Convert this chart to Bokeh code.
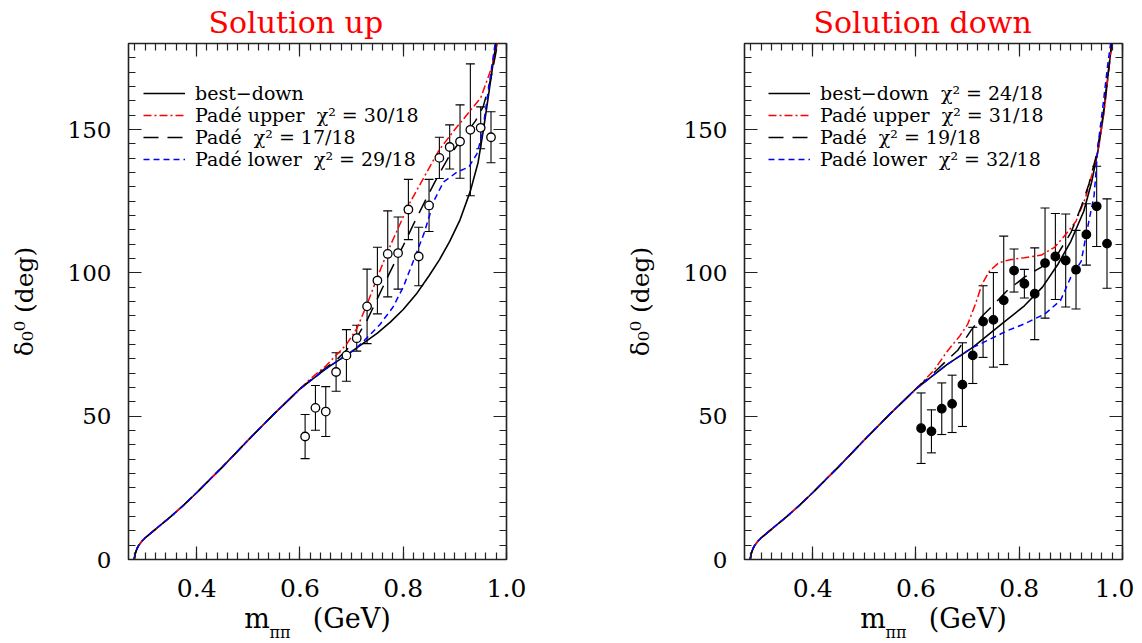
import numpy as np
from bokeh.plotting import figure
from bokeh.models import (ColumnDataSource, Whisker, TeeHead, LinearAxis, FixedTicker, Range1d,
                          Legend, LegendItem, Title, CustomJSTickFormatter, NumeralTickFormatter)
from bokeh.layouts import row
from bokeh.embed import file_html
from bokeh.resources import INLINE

# ---------------- data ----------------
m_pts = [0.61, 0.63, 0.65, 0.67, 0.69, 0.71, 0.73, 0.75, 0.77, 0.79,
         0.81, 0.83, 0.85, 0.87, 0.89, 0.91, 0.93, 0.95, 0.97]
delta_up = [42.9, 52.9, 51.6, 65.4, 71.2, 77.2, 88.3, 97.3, 106.6, 106.9,
            122.1, 105.7, 123.5, 140.1, 143.9, 145.8, 149.9, 150.6, 147.3]
err_up = [7.7, 7.8, 8.7, 6.7, 9.0, 4.5, 13.0, 11.6, 15.0, 12.6,
          10.5, 10.2, 9.1, 7.2, 7.7, 12.8, 23.0, 7.3, 8.9]
delta_down = [45.8, 44.7, 52.6, 54.3, 61.0, 71.2, 83.0, 83.6, 90.4, 100.8,
              96.2, 92.7, 103.4, 105.7, 104.3, 101.1, 113.4, 123.2, 110.2]
err_down = [12.3, 7.5, 9.0, 10.0, 14.6, 9.8, 12.5, 16.5, 22.4, 7.5,
            5.0, 16.0, 19.2, 15.0, 16.2, 13.7, 10.7, 14.0, 15.6]

# common low-energy part of all curves
common_m = [0.279, 0.281, 0.284, 0.288, 0.294, 0.30, 0.32, 0.35, 0.375, 0.40, 0.425, 0.45,
            0.475, 0.50, 0.55, 0.60]
common_d = [0.0, 2.0, 3.6, 5.0, 6.4, 7.5, 10.5, 15.0, 19.0, 23.3, 27.8, 32.3,
            37.0, 41.7, 50.8, 59.5]

# Solution up
L_best_m = [0.65, 0.70, 0.75, 0.775, 0.80, 0.825, 0.85, 0.87, 0.89, 0.91, 0.93, 0.945,
            0.955, 0.962, 0.97, 0.978, 0.985, 0.992]
L_best_d = [66.5, 72.5, 79.0, 82.8, 87.2, 92.5, 99.0, 104.5, 111.0, 118.5, 128.5, 138.5,
            149.5, 158.0, 168.0, 178.0, 188.0, 198.0]
L_upper_m = [0.62, 0.65, 0.69, 0.71, 0.73, 0.75, 0.77, 0.79, 0.81, 0.83, 0.85, 0.87, 0.90,
             0.925, 0.95, 0.97, 0.985, 0.992]
L_upper_d = [63.0, 67.5, 75.0, 80.5, 89.0, 98.5, 107.5, 115.5, 123.5, 130.0, 136.5, 143.0, 150.0,
             155.5, 161.0, 171.0, 182.0, 190.0]
L_pade_m = [0.64, 0.67, 0.69, 0.71, 0.73, 0.75, 0.775, 0.80, 0.82, 0.845, 0.865, 0.89, 0.915,
            0.94, 0.955, 0.97, 0.985, 0.992]
L_pade_d = [65.5, 69.5, 73.0, 77.5, 83.5, 91.0, 100.5, 109.5, 117.0, 126.0, 133.0, 141.0, 147.0,
            153.0, 158.0, 168.0, 182.0, 190.0]
L_lower_m = [0.65, 0.70, 0.72, 0.755, 0.78, 0.80, 0.82, 0.84, 0.86, 0.878, 0.904, 0.927, 0.943,
             0.953, 0.962, 0.97, 0.978, 0.985]
L_lower_d = [66.5, 72.5, 75.5, 82.0, 88.0, 95.0, 104.3, 113.6, 125.3, 131.7, 135.1, 136.9, 141.6,
             148.5, 160.0, 170.0, 180.0, 190.0]

# Solution down
R_best_m = [0.66, 0.71, 0.765, 0.81, 0.845, 0.875, 0.90, 0.925, 0.94, 0.953, 0.963, 0.972, 0.979, 0.986]
R_best_d = [68.0, 74.0, 82.0, 88.5, 95.0, 103.0, 111.0, 121.5, 131.5, 143.0, 155.0, 169.0, 180.0, 192.0]
R_upper_m = [0.635, 0.66, 0.685, 0.70, 0.715, 0.728, 0.742, 0.76, 0.78, 0.81, 0.843, 0.869, 0.891,
             0.91, 0.928, 0.945, 0.955, 0.965, 0.973, 0.98, 0.986]
R_upper_d = [66.0, 72.5, 78.0, 82.0, 89.0, 96.0, 100.5, 103.5, 104.5, 105.3, 106.2, 109.0, 113.6,
             118.0, 126.0, 137.0, 145.0, 157.0, 170.0, 181.0, 190.0]
R_pade_m = [0.64, 0.66, 0.681, 0.707, 0.726, 0.752, 0.778, 0.81, 0.843, 0.875, 0.90, 0.92, 0.935,
            0.948, 0.96, 0.97, 0.979, 0.986]
R_pade_d = [66.0, 69.5, 73.0, 80.0, 84.5, 89.2, 94.0, 98.5, 102.0, 106.7, 114.0, 123.0, 131.0,
            140.0, 152.0, 166.0, 180.0, 190.0]
R_lower_m = [0.66, 0.71, 0.726, 0.778, 0.81, 0.85, 0.88, 0.90, 0.92, 0.93, 0.945, 0.953, 0.963,
             0.972, 0.977, 0.985]
R_lower_d = [68.0, 74.0, 75.3, 79.9, 82.2, 85.7, 90.4, 98.5, 104.0, 113.6, 127.0, 145.0, 159.6,
             173.5, 180.0, 192.0]

titles = ["Solution up", "Solution down"]
labels_up = ["best\u2212down", "Pad\u00e9 upper  \u03c7\u00b2 = 30/18",
             "Pad\u00e9  \u03c7\u00b2 = 17/18", "Pad\u00e9 lower  \u03c7\u00b2 = 29/18"]
labels_down = ["best\u2212down  \u03c7\u00b2 = 24/18", "Pad\u00e9 upper  \u03c7\u00b2 = 31/18",
               "Pad\u00e9  \u03c7\u00b2 = 19/18", "Pad\u00e9 lower  \u03c7\u00b2 = 32/18"]
x_major = [0.4, 0.6, 0.8, 1.0]
y_major = [0, 50, 100, 150]
y_label = "\u03b4\u2080\u2070 (deg)"
x_label = "m" + "\u00a0" * 5 + "(GeV)"
x_sub = "\u03c0\u03c0"

FONT = "DejaVu Serif"
FRAME_COL = "#222222"


def add_axes(p):
    xt = FixedTicker(ticks=x_major, minor_ticks=list(np.round(np.arange(0.28, 1.001, 0.02), 3)))
    yt = FixedTicker(ticks=y_major, minor_ticks=list(range(0, 181, 5)))
    for side in ["below", "above", "left", "right"]:
        ax = LinearAxis(ticker=xt if side in ("below", "above") else yt)
        ax.axis_line_color = None
        ax.major_tick_in = 13
        ax.major_tick_out = 0
        ax.minor_tick_in = 7
        ax.minor_tick_out = 0
        ax.major_tick_line_color = FRAME_COL
        ax.minor_tick_line_color = FRAME_COL
        ax.major_tick_line_width = 1.2
        ax.minor_tick_line_width = 1.2
        ax.major_label_text_font = FONT
        ax.major_label_text_font_size = "25px"
        ax.major_label_text_color = "black"
        ax.axis_label_text_font = FONT
        ax.axis_label_text_font_style = "normal"
        ax.axis_label_text_color = "black"
        if side == "below":
            ax.formatter = NumeralTickFormatter(format="0.0")
            ax.major_label_standoff = 19
            ax.axis_label = x_label
            ax.axis_label_text_font_size = "27px"
            ax.axis_label_standoff = 3
        elif side == "left":
            ax.major_label_text_font_size = "23px"
            ax.major_label_standoff = 17
            ax.axis_label = y_label
            ax.axis_label_text_font_size = "25px"
            ax.axis_label_standoff = 26
        else:
            ax.formatter = CustomJSTickFormatter(code="return ''")
            ax.major_label_standoff = 0
            ax.major_label_text_font_size = "0px"
        p.add_layout(ax, side)


def make_panel(title, title_off, y_pts, y_err, filled, curves, labels, legend_x, b_left, b_right):
    p = figure(frame_width=378, frame_height=516,
               x_range=Range1d(0.268, 1.0), y_range=Range1d(0, 180),
               x_axis_type=None, y_axis_type=None,
               output_backend="svg", toolbar_location=None,
               min_border_left=b_left, min_border_right=b_right,
               min_border_top=43, min_border_bottom=82,
               background_fill_color="white", border_fill_color="white")
    p.outline_line_color = FRAME_COL
    p.outline_line_width = 1.6
    add_axes(p)
    p.title = Title(text=title, align="left", offset=title_off, text_color="red",
                    text_font=FONT, text_font_size="30px", text_font_style="normal",
                    vertical_align="top", standoff=4)
    p.add_layout(Title(text=x_sub, align="left", offset=141, text_color="black",
                       text_font=FONT, text_font_size="16px", text_font_style="normal",
                       vertical_align="top", standoff=-27), "below")

    styles = [dict(line_color="black", line_width=1.6),
              dict(line_color="red", line_width=1.5, line_dash="8 3 2 3"),
              dict(line_color="black", line_width=1.5, line_dash="15 9"),
              dict(line_color="blue", line_width=1.5, line_dash="6 4")]
    rends = []
    for (cm, cd), st in zip(curves, styles):
        rends.append(p.line(common_m + cm, common_d + cd, **st))

    lo = [y - e for y, e in zip(y_pts, y_err)]
    hi = [y + e for y, e in zip(y_pts, y_err)]
    src = ColumnDataSource(dict(x=m_pts, y=y_pts, lower=lo, upper=hi))
    wh = Whisker(source=src, base="x", lower="lower", upper="upper",
                 line_color="black", line_width=1.1, level="underlay",
                 upper_head=TeeHead(size=9, line_color="black", line_width=1.1),
                 lower_head=TeeHead(size=9, line_color="black", line_width=1.1))
    p.add_layout(wh)
    p.scatter("x", "y", source=src, marker="circle", size=8.5,
              fill_color="black" if filled else "white", line_color="black", line_width=1.3)

    leg = Legend(items=[LegendItem(label=l, renderers=[r]) for l, r in zip(labels, rends)],
                 location=(legend_x, 389), margin=0, padding=0, spacing=0,
                 label_height=22, glyph_height=22, glyph_width=42, label_standoff=10,
                 label_text_font=FONT, label_text_font_size="19px", label_text_color="black",
                 border_line_color=None, background_fill_alpha=0)
    p.add_layout(leg)
    return p


p1 = make_panel(titles[0], 80, delta_up, err_up, False,
                [(L_best_m, L_best_d), (L_upper_m, L_upper_d), (L_pade_m, L_pade_d), (L_lower_m, L_lower_d)],
                labels_up, 15, 128, 100)
p2 = make_panel(titles[1], 69, delta_down, err_down, True,
                [(R_best_m, R_best_d), (R_upper_m, R_upper_d), (R_pade_m, R_pade_d), (R_lower_m, R_lower_d)],
                labels_down, 24, 138, 12)

layout = row(p1, p2, spacing=0)
open("out.html", "w").write(file_html(layout, INLINE))
